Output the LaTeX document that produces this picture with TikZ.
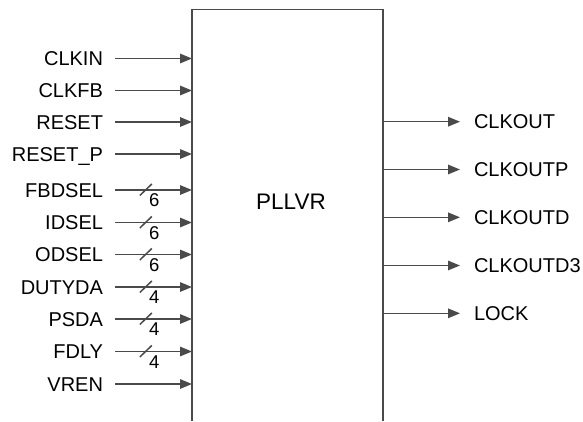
\documentclass[tikz,border=0pt]{standalone}
\usepackage{fontspec}
\setmainfont{Liberation Sans}
\usetikzlibrary{positioning,arrows.meta}
\definecolor{wirecol}{HTML}{4A4A4A}

\begin{document}
\begin{tikzpicture}
    [%%%%%%%%%%%%%%%%%%%%%%%%%%%%%%
    x=1pt,y=-1pt,
    wire/.style={draw=wirecol,line width=1.5pt},
    sigarrow/.style={wire,-{Triangle[length=12pt,width=9.5pt]}},
    insig/.style={anchor=east,font=\fontsize{20}{24}\selectfont,text height=14.4pt,text depth=0pt,inner ysep=0pt,inner xsep=6pt,outer xsep=6pt},
    outsig/.style={anchor=west,font=\fontsize{20}{24}\selectfont,text height=14.4pt,text depth=0pt,inner ysep=0pt,inner xsep=7pt,outer xsep=7pt},
    buswidth/.style={font=\fontsize{18.5}{22}\selectfont,inner sep=0pt,text height=13.2pt,text depth=0pt},
    ]%%%%%%%%%%%%%%%%%%%%%%%%%%%%%%

    \useasboundingbox (0,0) rectangle (583,421);

    % block
    \draw[wire,line width=1.8pt] (192,421) -- (192,9.5) -- (383,9.5) -- (383,421);
    \node[font=\fontsize{22.5}{27}\selectfont] at (291,202) (pll) {PLLVR};

    % inputs
    \node[insig] at (115,58.5) (clkin_text) {CLKIN};
    \coordinate (clkin_pin) at (192,58.5);
    \draw[sigarrow] (clkin_text) -- (clkin_pin);

    \node[insig] at (115,90.5) (clkfb_text) {CLKFB};
    \coordinate (clkfb_pin) at (192,90.5);
    \draw[sigarrow] (clkfb_text) -- (clkfb_pin);

    \node[insig] at (115,122) (reset_text) {RESET};
    \coordinate (reset_pin) at (192,122);
    \draw[sigarrow] (reset_text) -- (reset_pin);

    \node[insig] at (115,154) (resetp_text) {RESET\_P};
    \coordinate (resetp_pin) at (192,154);
    \draw[sigarrow] (resetp_text) -- (resetp_pin);

    % bus inputs
    \node[insig] at (115,190) (fbdsel_text) {FBDSEL};
    \coordinate (fbdsel_pin) at (192,190);
    \draw[sigarrow] (fbdsel_text) -- coordinate[pos=0.4] (fbdsel_bus) (fbdsel_pin);
    \draw[wire] ([shift={(-6,5.5)}]fbdsel_bus) -- ([shift={(6,-6)}]fbdsel_bus);
    \node[buswidth] at ([shift={(8.5,10)}]fbdsel_bus) (fbdsel_w) {6};

    \node[insig] at (115,222.5) (idsel_text) {IDSEL};
    \coordinate (idsel_pin) at (192,222.5);
    \draw[sigarrow] (idsel_text) -- coordinate[pos=0.4] (idsel_bus) (idsel_pin);
    \draw[wire] ([shift={(-6,5.5)}]idsel_bus) -- ([shift={(6,-6)}]idsel_bus);
    \node[buswidth] at ([shift={(8.5,10)}]idsel_bus) (idsel_w) {6};

    \node[insig] at (115,254.5) (odsel_text) {ODSEL};
    \coordinate (odsel_pin) at (192,254.5);
    \draw[sigarrow] (odsel_text) -- coordinate[pos=0.4] (odsel_bus) (odsel_pin);
    \draw[wire] ([shift={(-6,5.5)}]odsel_bus) -- ([shift={(6,-6)}]odsel_bus);
    \node[buswidth] at ([shift={(8.5,10)}]odsel_bus) (odsel_w) {6};

    \node[insig] at (115,287) (dutyda_text) {DUTYDA};
    \coordinate (dutyda_pin) at (192,287);
    \draw[sigarrow] (dutyda_text) -- coordinate[pos=0.4] (dutyda_bus) (dutyda_pin);
    \draw[wire] ([shift={(-6,5.5)}]dutyda_bus) -- ([shift={(6,-6)}]dutyda_bus);
    \node[buswidth] at ([shift={(8.5,10)}]dutyda_bus) (dutyda_w) {4};

    \node[insig] at (115,319) (psda_text) {PSDA};
    \coordinate (psda_pin) at (192,319);
    \draw[sigarrow] (psda_text) -- coordinate[pos=0.4] (psda_bus) (psda_pin);
    \draw[wire] ([shift={(-6,5.5)}]psda_bus) -- ([shift={(6,-6)}]psda_bus);
    \node[buswidth] at ([shift={(8.5,10)}]psda_bus) (psda_w) {4};

    \node[insig] at (115,351.5) (fdly_text) {FDLY};
    \coordinate (fdly_pin) at (192,351.5);
    \draw[sigarrow] (fdly_text) -- coordinate[pos=0.4] (fdly_bus) (fdly_pin);
    \draw[wire] ([shift={(-6,5.5)}]fdly_bus) -- ([shift={(6,-6)}]fdly_bus);
    \node[buswidth] at ([shift={(8.5,10)}]fdly_bus) (fdly_w) {4};

    \node[insig] at (115,384) (vren_text) {VREN};
    \coordinate (vren_pin) at (192,384);
    \draw[sigarrow] (vren_text) -- (vren_pin);

    % outputs
    \coordinate (clkout_pin) at (383,121.7);
    \node[outsig] at (460,121.7) (clkout_text) {CLKOUT};
    \draw[sigarrow] (clkout_pin) -- (clkout_text);

    \coordinate (clkoutp_pin) at (383,169.5);
    \node[outsig] at (460,169.5) (clkoutp_text) {CLKOUTP};
    \draw[sigarrow] (clkoutp_pin) -- (clkoutp_text);

    \coordinate (clkoutd_pin) at (383,217.3);
    \node[outsig] at (460,217.3) (clkoutd_text) {CLKOUTD};
    \draw[sigarrow] (clkoutd_pin) -- (clkoutd_text);

    \coordinate (clkoutdd_pin) at (383,265.5);
    \node[outsig] at (460,265.5) (clkoutdd_text) {CLKOUTD3};
    \draw[sigarrow] (clkoutdd_pin) -- (clkoutdd_text);

    \coordinate (lock_pin) at (383,313.3);
    \node[outsig] at (460,313.3) (lock_text) {LOCK};
    \draw[sigarrow] (lock_pin) -- (lock_text);

\end{tikzpicture}
\end{document}
